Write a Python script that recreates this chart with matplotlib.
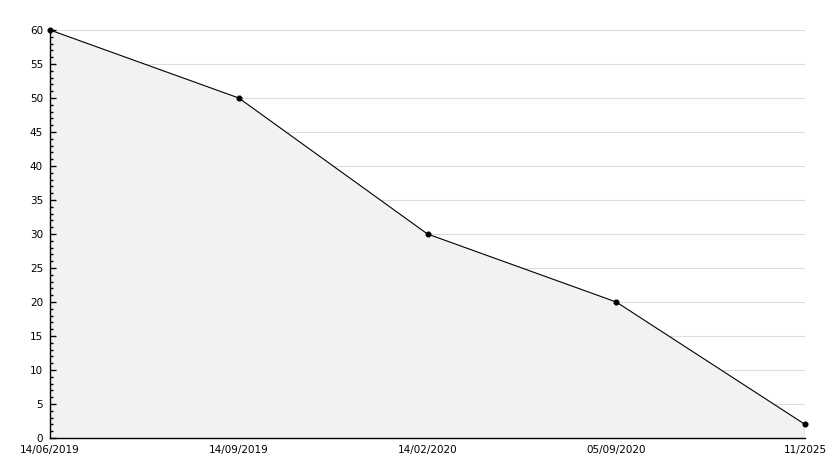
import matplotlib
matplotlib.use('Agg')
import matplotlib.pyplot as plt
import numpy as np
from matplotlib.ticker import MultipleLocator

# data
dates = ['14/06/2019', '14/09/2019', '14/02/2020', '05/09/2020', '11/2025']
values = [60, 50, 30, 20, 2]

fig = plt.figure(figsize=(8.34, 4.68), dpi=100)
ax = fig.add_axes([50 / 834, 1 - 438 / 468, 755 / 834, 408 / 468])

x = np.arange(len(dates))
ax.fill_between(x, values, 0, facecolor='#f2f2f2', edgecolor='none', zorder=1)
ax.plot(x, values, color='black', linewidth=0.8, marker='8', markersize=3.5,
        zorder=5, clip_on=False)
ax.vlines(x[-1], 0, values[-1], color='black', linewidth=0.8, zorder=3)

ax.set_xlim(0, len(dates) - 1)
ax.set_ylim(0, 60)
ax.set_xticks(x)
ax.set_xticklabels(dates)
ax.yaxis.set_major_locator(MultipleLocator(5))
ax.yaxis.set_minor_locator(MultipleLocator(1))

# horizontal grid lines, none at zero
for v in range(5, 61, 5):
    ax.axhline(v, color='#dddddd', linewidth=0.8, zorder=0)

for s in ['top', 'right']:
    ax.spines[s].set_visible(False)
ax.spines['left'].set_linewidth(1)
ax.spines['bottom'].set_linewidth(1)
ax.spines['left'].set_zorder(4)
ax.spines['bottom'].set_zorder(4)

ax.tick_params(axis='y', which='major', direction='in', length=4, width=1, labelsize=7.5, pad=5)
ax.tick_params(axis='y', which='minor', direction='in', length=2, width=1)
ax.tick_params(axis='x', which='major', length=0, labelsize=7.5, pad=5)

fig.savefig('out.png', dpi=100)
